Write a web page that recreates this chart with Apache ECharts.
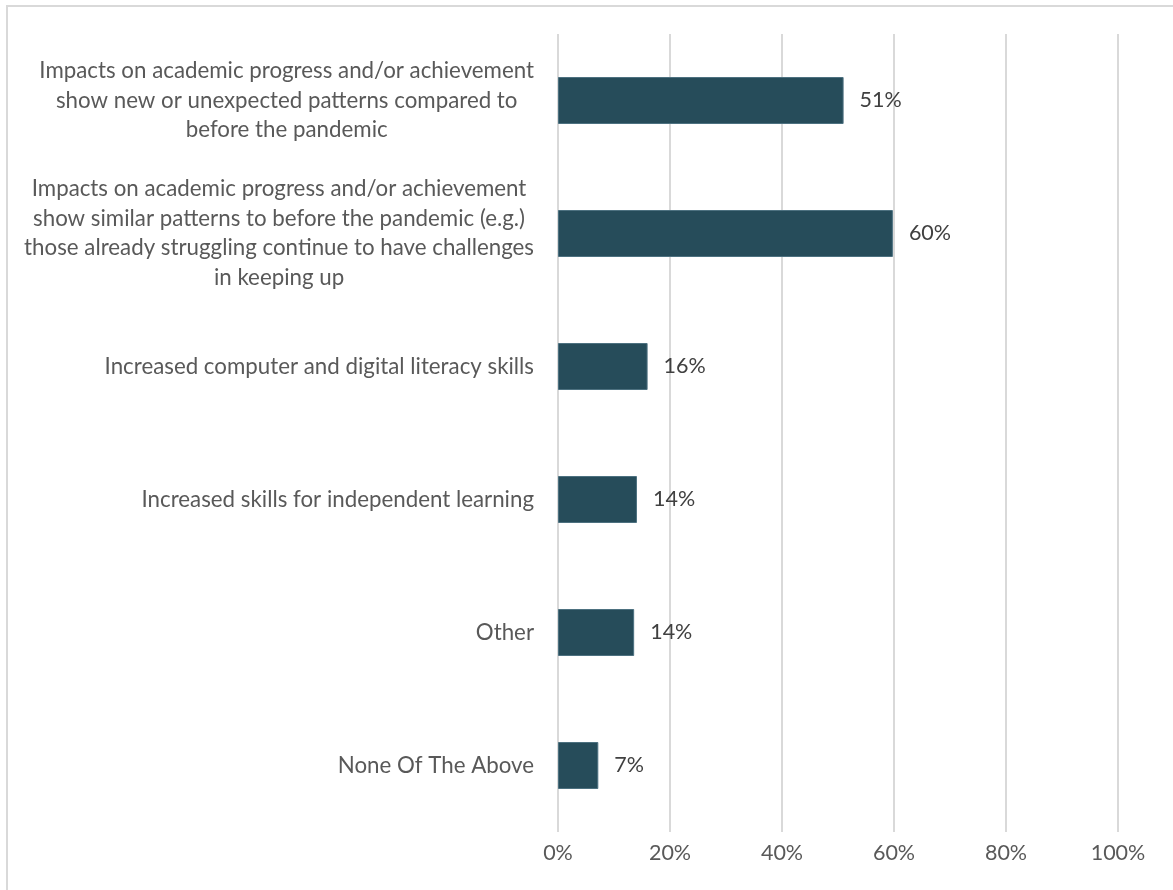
<!DOCTYPE html>
<html>
<head>
<meta charset="utf-8">
<script src="https://cdn.jsdelivr.net/npm/echarts@6/dist/echarts.min.js"></script>
<style>
html,body{margin:0;padding:0;background:#fff;}
#frame{position:absolute;left:6px;top:5px;width:1200px;height:900px;border:2px solid #d9d9d9;box-sizing:border-box;}
#chart{position:absolute;left:0;top:0;width:1173px;height:890px;}
</style>
</head>
<body>
<div id="frame"></div>
<div id="chart"></div>
<script>
const categories = [
  "Impacts on academic progress and/or achievement\nshow new or unexpected patterns compared to\nbefore the pandemic",
  "Impacts on academic progress and/or achievement\nshow similar patterns to before the pandemic (e.g.)\nthose already struggling continue to have challenges\nin keeping up",
  "Increased computer and digital literacy skills",
  "Increased skills for independent learning",
  "Other",
  "None Of The Above"
];
const values = [51.0, 59.8, 16.0, 14.1, 13.6, 7.2];
const valueLabels = ["51%", "60%", "16%", "14%", "14%", "7%"];
const tickValues = [0, 20, 40, 60, 80, 100];

const FONT = 'Lato';
const chart = echarts.init(document.getElementById('chart'));
chart.setOption({
  backgroundColor: 'transparent',
  animation: false,
  grid: {left: 558, right: 55, top: 34, bottom: 58, containLabel: false},
  xAxis: {
    type: 'value', min: 0, max: 100, interval: 20,
    axisLine: {show: false}, axisTick: {show: false},
    splitLine: {lineStyle: {color: '#d9d9d9', width: 2}},
    axisLabel: {
      formatter: v => tickValues.includes(v) ? v + '%' : '',
      color: '#595959', fontFamily: FONT, fontSize: 21.5, margin: 10
    }
  },
  yAxis: {
    type: 'category', inverse: true, data: categories,
    axisLine: {show: false}, axisTick: {show: false},
    axisLabel: {
      margin: 24, align: 'right',
      formatter: v => v.split('\n').map(l => '{c|' + l + '}').join('\n'),
      rich: {c: {align: 'center', fontFamily: FONT, fontSize: 22.3, lineHeight: 29.5, color: '#595959'}}
    }
  },
  series: [{
    type: 'bar', data: values, barWidth: 47,
    itemStyle: {color: '#264C5A', borderColor: '#4d7180', borderWidth: 1},
    label: {
      show: true, position: 'right', distance: 16,
      formatter: p => valueLabels[p.dataIndex],
      color: '#404040', fontFamily: FONT, fontSize: 21.5
    }
  }]
});
</script>
</body>
</html>
